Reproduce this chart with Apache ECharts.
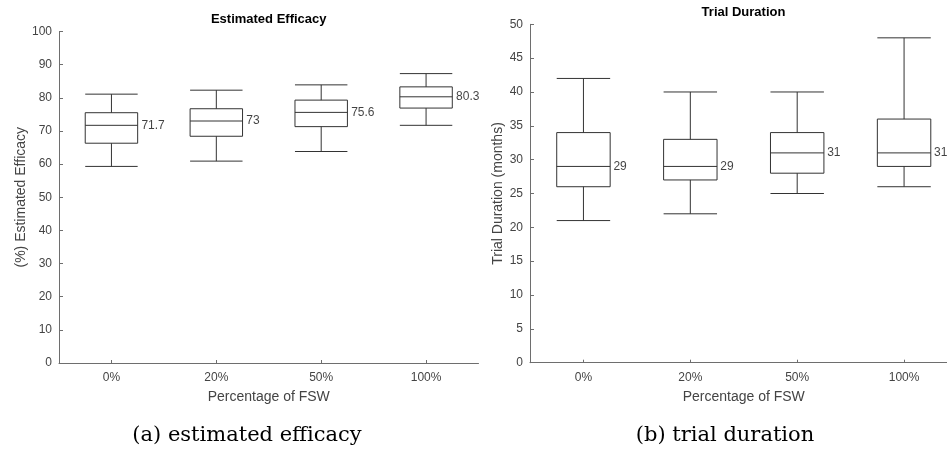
<!DOCTYPE html>
<html>
<head>
<meta charset="utf-8">
<script src="https://cdn.jsdelivr.net/npm/echarts@6/dist/echarts.min.js"></script>
<style>
html,body{margin:0;padding:0;background:#fff;overflow:hidden;width:947px;height:453px;}
#chart{width:958px;height:453px;}
</style>
</head>
<body>
<div id="chart"></div>
<script>
// Categories
const categories = ['0%', '20%', '50%', '100%'];
// Estimated efficacy boxes: [lower whisker, Q1, median, Q3, upper whisker]
const efficacyBoxes = [
  [59.3, 66.3, 71.7, 75.5, 81.1],
  [60.9, 68.4, 73.0, 76.7, 82.3],
  [63.8, 71.3, 75.6, 79.3, 83.9],
  [71.7, 76.9, 80.3, 83.3, 87.3]
];
const efficacyMedians = [71.7, 73, 75.6, 80.3];
// Trial duration boxes (months)
const durationBoxes = [
  [21, 26, 29, 34, 42],
  [22, 27, 29, 33, 40],
  [25, 28, 31, 34, 40],
  [26, 29, 31, 36, 48]
];
const durationMedians = [29, 29, 31, 31];
// Titles and labels
const titles = ['Estimated Efficacy', 'Trial Duration'];
const yNames = ['(%) Estimated Efficacy', 'Trial Duration (months)'];
const xName = 'Percentage of FSW';
const captions = ['(a) estimated efficacy', '(b) trial duration'];

const FONT = '"Liberation Sans", Arial, Helvetica, sans-serif';
const AXIS_COLOR = '#6e6e6e';
const TEXT_COLOR = '#444';
const BOX_COLOR = '#333';

function xAxis(gridIndex) {
  return {
    type: 'category', gridIndex, data: categories, boundaryGap: true,
    name: xName, nameLocation: 'middle', nameGap: 27,
    nameTextStyle: {fontFamily: FONT, fontSize: 14, color: TEXT_COLOR},
    axisLine: {show: true, lineStyle: {color: AXIS_COLOR, width: 1}},
    axisTick: {show: true, inside: true, length: 3, alignWithLabel: true, lineStyle: {color: AXIS_COLOR}},
    axisLabel: {fontFamily: FONT, fontSize: 12, color: TEXT_COLOR, margin: 9},
    splitLine: {show: false}
  };
}
function yAxis(gridIndex, max, interval, nameGap) {
  return {
    type: 'value', gridIndex, min: 0, max, interval,
    name: yNames[gridIndex], nameLocation: 'middle', nameGap,
    nameTextStyle: {fontFamily: FONT, fontSize: 14, color: TEXT_COLOR},
    axisLine: {show: true, lineStyle: {color: AXIS_COLOR, width: 1}},
    axisTick: {show: true, inside: true, length: 4, lineStyle: {color: AXIS_COLOR}},
    axisLabel: {fontFamily: FONT, fontSize: 12, color: TEXT_COLOR, margin: 7},
    splitLine: {show: false}
  };
}
function boxSeries(idx, data) {
  return {
    type: 'boxplot', xAxisIndex: idx, yAxisIndex: idx, data,
    boxWidth: ['50%', '50%'],
    itemStyle: {color: '#fff', borderColor: BOX_COLOR, borderWidth: 1},
    emphasis: {disabled: true},
    silent: true
  };
}
function medianLabels(idx, medians) {
  return {
    type: 'scatter', xAxisIndex: idx, yAxisIndex: idx,
    data: medians.map((m, i) => [i, m]),
    symbolSize: 0, silent: true,
    label: {
      show: true, position: 'right', distance: 4, offset: [26, 0],
      formatter: p => String(p.value[1]),
      fontFamily: FONT, fontSize: 12, color: '#111'
    }
  };
}

const chart = echarts.init(document.getElementById('chart'), null, {renderer: 'canvas'});
chart.setOption({
  animation: false,
  backgroundColor: '#fff',
  grid: [
    {left: 59, right: 479.5, top: 31.5, bottom: 90},
    {left: 530, right: 0.5, top: 24.3, bottom: 90.3}
  ],
  xAxis: [xAxis(0), xAxis(1)],
  yAxis: [yAxis(0, 100, 10, 31), yAxis(1, 50, 5, 25)],
  series: [
    boxSeries(0, efficacyBoxes),
    boxSeries(1, durationBoxes),
    medianLabels(0, efficacyMedians),
    medianLabels(1, durationMedians)
  ],
  graphic: [
    {type: 'text', x: 268.7, y: 19, style: {text: titles[0], textAlign: 'center', textVerticalAlign: 'middle', fontFamily: FONT, fontSize: 13, fontWeight: 'bold', fill: '#000'}},
    {type: 'text', x: 743.5, y: 12, style: {text: titles[1], textAlign: 'center', textVerticalAlign: 'middle', fontFamily: FONT, fontSize: 13, fontWeight: 'bold', fill: '#000'}},
    {type: 'text', x: 247, y: 436, style: {text: captions[0], textAlign: 'center', textVerticalAlign: 'middle', fontFamily: '"DejaVu Serif", serif', fontSize: 21, fill: '#000'}},
    {type: 'text', x: 725, y: 436, style: {text: captions[1], textAlign: 'center', textVerticalAlign: 'middle', fontFamily: '"DejaVu Serif", serif', fontSize: 21, fill: '#000'}}
  ]
});
</script>
</body>
</html>
